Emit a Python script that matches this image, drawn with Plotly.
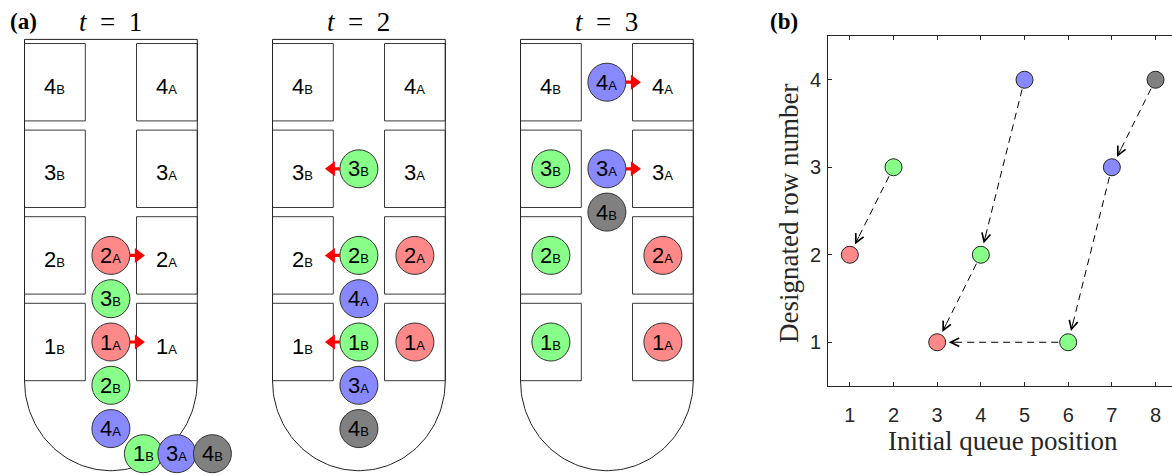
import numpy as np
import plotly.graph_objects as go

# ======================= DATA =======================
# Panel (b): boarding queue
queue_labels = ["2A", "3B", "1A", "2B", "4A", "1B", "3A", "4B"]
queue_position = [1, 2, 3, 4, 5, 6, 7, 8]
designated_row = [2, 3, 1, 2, 4, 1, 3, 4]
passenger_group = ["red", "green", "red", "green", "blue", "green", "blue", "gray"]
# blocking relations (queue position -> queue position)
block_from = [2, 5, 4, 6, 8, 7]
block_to = [1, 4, 3, 3, 7, 6]
x_tick_vals = [1, 2, 3, 4, 5, 6, 7, 8]
y_tick_vals = [1, 2, 3, 4]

# Panel (a): cabin snapshots
time_steps = [1, 2, 3]
seat_rows = [1, 2, 3, 4]
seat_sides = ["A", "B"]
# passengers standing in the aisle (row position, lateral offset from aisle centre)
aisle_labels = [
    ["2A", "3B", "1A", "2B", "4A", "1B", "3A", "4B"],
    ["3B", "2B", "4A", "1B", "3A", "4B"],
    ["4A", "3A", "4B"],
]
aisle_rows = [
    [2, 1.5, 1, 0.5, 0, -0.29, -0.29, -0.29],
    [3, 2, 1.5, 1, 0.5, 0],
    [4, 3, 2.5],
]
aisle_shift = [
    [0, 0, 0, 0, 0, 32.5, 66, 101.5],
    [0, 0, 0, 0, 0, 0],
    [0, 0, 0],
]
# passengers already seated
seated_labels = [
    [],
    ["2A", "1A"],
    ["3B", "2B", "1B", "2A", "1A"],
]
# passengers stepping into their row
moving_labels = [
    ["2A", "1A"],
    ["3B", "2B", "1B"],
    ["4A", "3A"],
]

# ======================= STYLE / GEOMETRY =======================
W, H = 1172, 475
COLORS = {"red": "#ff8888", "green": "#88ff88", "blue": "#8888ff", "gray": "#808080"}
color_of = dict(zip(queue_labels, passenger_group))

CAB_OFFSETS = [0, 248, 496]
WALL_L, WALL_R = 24.5, 197.3
AISLE_C = 110.9
SEAT_IN_L, SEAT_IN_R = 85.3, 136.5
ROW1_Y, ROW_PITCH, SEAT_HALF_H = 342.0, 86.6, 38.7
TOP_Y = 39.4
ARC_RY = 90.0
CIRCLE_D = 38
SANS = "Liberation Sans, Arial, Helvetica, sans-serif"
SERIF = "Liberation Serif, Times New Roman, serif"
AXC = "#262626"
BIG, SMALL = 22, 13


def row_y(r):
    return ROW1_Y - (r - 1) * ROW_PITCH


def seat_x(side):
    return (SEAT_IN_R + WALL_R) / 2 if side == "A" else (WALL_L + SEAT_IN_L) / 2


def lab_html(label):
    return f"{label[0]}<span style='font-size:{SMALL}px'>{label[1]}</span>"


fig = go.Figure()
shapes = []
annotations = []

# ---------------- Panel (a) ----------------
for k, t in enumerate(time_steps):
    off = CAB_OFFSETS[k]
    # outline: top, walls and rounded back
    arc_start = row_y(1) + SEAT_HALF_H
    th = np.linspace(0, np.pi, 90)
    rx = (WALL_R - WALL_L) / 2
    cx = (WALL_R + WALL_L) / 2 + off
    ox = [WALL_L + off, WALL_R + off, WALL_R + off] + list(cx + rx * np.cos(th)) + [WALL_L + off, WALL_L + off]
    oy = [TOP_Y, TOP_Y, arc_start] + list(arc_start + ARC_RY * np.sin(th)) + [arc_start, TOP_Y]
    fig.add_trace(go.Scatter(x=ox, y=oy, mode="lines", line=dict(color="#222", width=1),
                             hoverinfo="skip", showlegend=False, xaxis="x", yaxis="y"))
    # seats
    for r in seat_rows:
        yc = row_y(r)
        for side in seat_sides:
            x0, x1 = (SEAT_IN_R, WALL_R) if side == "A" else (WALL_L, SEAT_IN_L)
            shapes.append(dict(type="rect", xref="x", yref="y", x0=x0 + off, x1=x1 + off,
                               y0=yc - SEAT_HALF_H, y1=yc + SEAT_HALF_H,
                               line=dict(color="#3a3a3a", width=1), fillcolor="white", layer="below"))
            lab = f"{r}{side}"
            if lab not in seated_labels[k]:
                annotations.append(dict(xref="x", yref="y", x=seat_x(side) + off, y=yc + 4,
                                        text=lab_html(lab), showarrow=False,
                                        font=dict(family=SANS, size=BIG, color="black"),
                                        xanchor="center", yanchor="middle"))
    # moving arrows
    for lab in moving_labels[k]:
        i = aisle_labels[k].index(lab)
        y = row_y(aisle_rows[k][i])
        d = 1 if lab[1] == "A" else -1
        xs = AISLE_C + off + d * CIRCLE_D / 2
        pts = [(xs, y - 1.6), (xs + d * 5, y - 1.6), (xs + d * 5, y - 7.5), (xs + d * 15, y),
               (xs + d * 5, y + 7.5), (xs + d * 5, y + 1.6), (xs, y + 1.6)]
        path = "M " + " L ".join(f"{px:.2f},{py:.2f}" for px, py in pts) + " Z"
        shapes.append(dict(type="path", xref="x", yref="y", path=path,
                           fillcolor="#ff0000", line=dict(width=0), layer="above"))
    # passengers
    px_, py_, pl_ = [], [], []
    for lab in seated_labels[k]:
        px_.append(seat_x(lab[1]) + off)
        py_.append(row_y(int(lab[0])))
        pl_.append(lab)
    for lab, r, s in zip(aisle_labels[k], aisle_rows[k], aisle_shift[k]):
        px_.append(AISLE_C + off + s)
        py_.append(row_y(r))
        pl_.append(lab)
    pc_ = [COLORS[color_of[l]] for l in pl_]
    fig.add_trace(go.Scatter(x=px_, y=py_, mode="markers",
                             marker=dict(size=CIRCLE_D, color=pc_, line=dict(color="#333", width=1)),
                             hoverinfo="skip", showlegend=False, xaxis="x", yaxis="y"))
    for x, y, lab in zip(px_, py_, pl_):
        annotations.append(dict(xref="x", yref="y", x=x, y=y, text=lab_html(lab), showarrow=False,
                                font=dict(family=SANS, size=BIG, color="black"),
                                xanchor="center", yanchor="middle"))
    # time title
    annotations.append(dict(xref="x", yref="y", x=AISLE_C + off, y=22,
                            text=f"<i>t</i>&nbsp;&nbsp;=&nbsp;&nbsp;{t}", showarrow=False,
                            font=dict(family=SERIF, size=27, color="black"),
                            xanchor="center", yanchor="middle"))

annotations.append(dict(xref="x", yref="y", x=8, y=21, text="<b>(a)</b>", showarrow=False,
                        font=dict(family=SERIF, size=23, color="black"), xanchor="left", yanchor="middle"))

# ---------------- Panel (b) ----------------
B_LEFT, B_RIGHT, B_TOP, B_BOTTOM = 828, 1172, 36, 386
X2_RANGE = [0.5, 0.5 + (B_RIGHT - B_LEFT) / 43.67]
Y2_RANGE = [0.5, 4.5]
sx = (B_RIGHT - B_LEFT) / (X2_RANGE[1] - X2_RANGE[0])
sy = (B_BOTTOM - B_TOP) / (Y2_RANGE[1] - Y2_RANGE[0])

for f, t in zip(block_from, block_to):
    x0, y0 = queue_position[f - 1], designated_row[f - 1]
    x1, y1 = queue_position[t - 1], designated_row[t - 1]
    dxp, dyp = (x1 - x0) * sx, (y1 - y0) * sy
    L = np.hypot(dxp, dyp)
    ux, uy = dxp / L / sx, dyp / L / sy  # data units per pixel along the line
    a0 = 10.0
    a1 = 20.0
    fig.add_trace(go.Scatter(x=[x0 + ux * a0, x1 - ux * a1], y=[y0 + uy * a0, y1 - uy * a1],
                             mode="lines", line=dict(color="black", width=1, dash="7px,5px"),
                             hoverinfo="skip", showlegend=False, xaxis="x2", yaxis="y2"))
    annotations.append(dict(xref="x2", yref="y2", axref="x2", ayref="y2",
                            x=x1, y=y1, ax=x1 - ux * 22, ay=y1 - uy * 22,
                            text="", showarrow=True, arrowhead=5, arrowsize=1.7, arrowwidth=1,
                            arrowcolor="black", standoff=11.5))

fig.add_trace(go.Scatter(x=queue_position, y=designated_row, mode="markers",
                         marker=dict(size=17, color=[COLORS[g] for g in passenger_group],
                                     line=dict(color="#222", width=1)),
                         hoverinfo="skip", showlegend=False, xaxis="x2", yaxis="y2"))

annotations.append(dict(xref="paper", yref="paper", x=(B_LEFT + 1178) / 2 / W, y=1 - 441 / H,
                        text="Initial queue position", showarrow=False,
                        font=dict(family=SERIF, size=27, color=AXC), xanchor="center", yanchor="middle"))
annotations.append(dict(xref="paper", yref="paper", x=789 / W, y=1 - 214 / H,
                        text="Designated row number", showarrow=False, textangle=-90,
                        font=dict(family=SERIF, size=27, color=AXC), xanchor="center", yanchor="middle"))
annotations.append(dict(xref="paper", yref="paper", x=768 / W, y=1 - 21 / H, text="<b>(b)</b>",
                        showarrow=False, font=dict(family=SERIF, size=23, color="black"),
                        xanchor="left", yanchor="middle"))

fig.update_layout(
    width=W, height=H,
    margin=dict(l=0, r=0, t=0, b=0),
    paper_bgcolor="white", plot_bgcolor="rgba(0,0,0,0)",
    shapes=shapes, annotations=annotations,
    xaxis=dict(domain=[0, 1], range=[0, W], visible=False, fixedrange=True),
    yaxis=dict(domain=[0, 1], range=[H, 0], visible=False, fixedrange=True),
    xaxis2=dict(domain=[B_LEFT / W, B_RIGHT / W], range=X2_RANGE, anchor="y2",
                tickvals=x_tick_vals, ticks="inside", ticklen=4, tickcolor=AXC,
                showline=True, linecolor=AXC, linewidth=1, mirror="ticks",
                showgrid=False, zeroline=False, ticklabelstandoff=11,
                tickfont=dict(family=SANS, size=20, color=AXC)),
    yaxis2=dict(domain=[1 - B_BOTTOM / H, 1 - B_TOP / H], range=Y2_RANGE, anchor="x2",
                tickvals=y_tick_vals, ticks="inside", ticklen=4, tickcolor=AXC,
                showline=True, linecolor=AXC, linewidth=1,
                showgrid=False, zeroline=False, ticklabelstandoff=2,
                tickfont=dict(family=SANS, size=20, color=AXC)),
)

fig.write_html("out.html", config={"displayModeBar": False},
               post_script="document.body.style.margin='0';document.body.style.padding='0';")
